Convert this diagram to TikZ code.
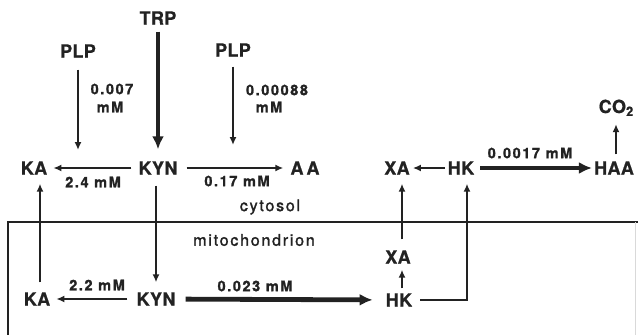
\documentclass[tikz,border=0pt]{standalone}
\usepackage{fontspec}
\setmainfont{TeX Gyre Heros}
\newfontfamily\metf[LetterSpace=2,FakeBold=0.8]{TeX Gyre Heros}
\newfontfamily\labf[LetterSpace=11,FakeBold=1.2]{TeX Gyre Heros}
\newfontfamily\compf[LetterSpace=11,FakeBold=1.6]{TeX Gyre Heros}
\usetikzlibrary{arrows.meta}
\definecolor{ink}{HTML}{222222}
\begin{document}
\begin{tikzpicture}[x=1pt,y=-1pt,
  met/.style={font=\metf\bfseries\fontsize{18}{19}\selectfont, text=ink, inner sep=1pt, text height=13pt, text depth=0pt},
  lab/.style={font=\labf\bfseries\fontsize{14.5}{15}\selectfont, text=ink, inner sep=0.5pt},
  comp/.style={font=\compf\fontsize{16}{17}\selectfont, text=ink, inner sep=1pt},
  arr/.style={draw=ink, line width=1.7pt, -{Latex[length=8pt,width=7pt]}},
  bigarr/.style={draw=ink, line width=4.8pt, -{Latex[length=13pt,width=12pt]}},
  wall/.style={draw=ink, line width=1.5pt},
]
\useasboundingbox[fill=white] (0,0) rectangle (638,335);

% compartment walls
\coordinate (wl) at (8,222);
\coordinate (wr) at (638,222);
\coordinate (wb) at (8,335);
\coordinate (rt) at (635,222);
\coordinate (rb) at (635,335);
\draw[wall] (wr) -- (wl) -- (wb);
\draw[draw=black!15, line width=0.8pt] (rt) -- (rb);

% metabolites, cytosol
\node[met] (trp)  at (158,18)  {TRP};
\node[met] (plp1) at (78,51)   {PLP};
\node[met] (plp2) at (233,50)  {PLP};
\node[met] (ka1)  at (34,168)  {KA};
\node[met] (kyn1) at (158,168) {KYN};
\node[met] (aa)   at (305,168) {A\,A};
\node[met] (xa1)  at (397,168) {XA};
\node[met] (hk1)  at (461,168) {HK};
\node[met] (haa)  at (614,168) {HAA};
\node[met, text depth=3pt] (co2) at (616,108) {CO\raisebox{-0.3ex}{\fontsize{13}{13}\selectfont 2}};

% metabolites, mitochondrion
\node[met] (ka2)  at (37,299)  {KA};
\node[met] (kyn2) at (156,299) {KYN};
\node[met] (xa2)  at (398,257) {XA};
\node[met] (hk2)  at (399,300) {HK};

% compartment names
\node[comp] (cyt) at (270,207) {cytosol};
\node[comp] (mit) at (254,240) {mitochondrion};

% Km labels
\node[lab] (k1a) at (112,89)  {0.007};
\node[lab] (k1b) at (110,107) {mM};
\node[lab] (k2a) at (277,90)  {0.00088};
\node[lab] (k2b) at (269,107) {mM};
\node[lab] (k3)  at (93,182)  {2.4 mM};
\node[lab] (k4)  at (237,181) {0.17 mM};
\node[lab] (k5)  at (530,153) {0.0017 mM};
\node[lab] (k6)  at (97,285)  {2.2 mM};
\node[lab] (k7)  at (255,286) {0.023 mM};

% free ends of cofactor arrows
\coordinate (p1e) at (78,150);
\coordinate (p2e) at (233,145);

% connectors, cytosol
\draw[bigarr, shorten <=6pt, shorten >=11pt] (trp) -- (kyn1);
\draw[arr, shorten <=11pt] (plp1) -- (p1e);
\draw[arr, shorten <=9pt] (plp2) -- (p2e);
\draw[arr, shorten <=6pt, shorten >=5pt] (kyn1) -- (ka1);
\draw[arr, shorten <=8pt, shorten >=6pt] (kyn1) -- (aa);
\draw[arr, shorten <=2pt, shorten >=2pt] (hk1) -- (xa1);
\draw[bigarr, shorten <=5pt, shorten >=1pt] (hk1) -- (haa);
\draw[arr, shorten <=6pt, shorten >=7pt] (haa.north -| co2) -- (co2);

% connectors, across the membrane
\draw[arr, shorten <=9pt, shorten >=8pt] ([xshift=3pt]ka2.north) -- ([xshift=3pt]ka2.north |- ka1.south);
\draw[arr, shorten <=10pt, shorten >=9pt] (kyn1.south -| kyn2) -- (kyn2);
\draw[arr, shorten <=10pt, shorten >=8pt] ([xshift=4pt]xa2.north) -- ([xshift=4pt]xa2.north |- xa1.south);
\draw[arr, shorten <=7pt, shorten >=8pt] (hk2.east) -| ([xshift=6pt]hk1.south);

% connectors, mitochondrion
\draw[arr, shorten <=8pt, shorten >=5pt] (kyn2) -- (ka2);
\draw[bigarr, shorten <=9pt, shorten >=12pt] (kyn2) -- (hk2);
\draw[arr, shorten <=4pt, shorten >=5pt] ([xshift=3pt]hk2.north) -- ([xshift=3pt]hk2.north |- xa2.south);
\end{tikzpicture}
\end{document}
